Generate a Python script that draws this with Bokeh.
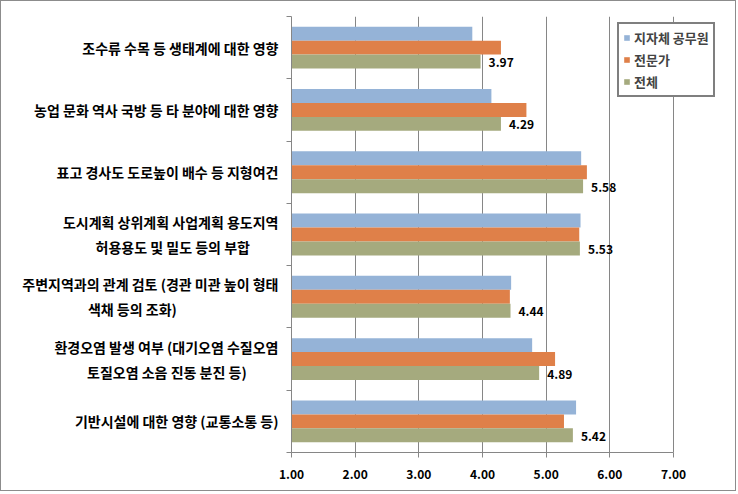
from bokeh.plotting import figure
from bokeh.models import Range1d, FixedTicker, Legend, LegendItem, ColumnDataSource
from bokeh.core.properties import value
from bokeh.embed import file_html
from bokeh.resources import INLINE

NB = "\u00a0"
categories = [
    "조수류 수목 등 생태계에 대한 영향",
    "농업 문화 역사 국방 등 타 분야에 대한 영향",
    "표고 경사도 도로높이 배수 등 지형여건",
    "도시계획 상위계획 사업계획 용도지역\n허용용도 및 밀도 등의 부합" + NB * 9,
    "주변지역과의 관계 검토 (경관 미관 높이 형태\n색채 등의 조화)" + NB * 32,
    "환경오염 발생 여부 (대기오염 수질오염\n토질오염 소음 진동 분진 등)" + NB * 10,
    "기반시설에 대한 영향 (교통소통 등)",
]
series_names = ["지자체 공무원", "전문가", "전체"]
officials = [3.84, 4.14, 5.55, 5.54, 4.45, 4.78, 5.47]
experts = [4.29, 4.69, 5.64, 5.52, 4.43, 5.14, 5.28]
overall = [3.97, 4.29, 5.58, 5.53, 4.44, 4.89, 5.42]
x_ticks = [1, 2, 3, 4, 5, 6, 7]
x_tick_labels = ["1.00", "2.00", "3.00", "4.00", "5.00", "6.00", "7.00"]

colors = ["#95B3D7", "#DF8049", "#A5AA7E"]
FONT = "Noto Sans CJK KR"

n = len(categories)
ypos = [n - 0.5 - i for i in range(n)]
bar_h = 0.224
offsets = [bar_h, 0.0, -bar_h]

p = figure(width=736, height=491, output_backend="svg", toolbar_location=None,
           x_range=Range1d(1, 7.88), y_range=Range1d(0, n),
           min_border_left=290, min_border_right=8, min_border_top=15, min_border_bottom=40)
p.styles = {"border": "1px solid #8c8c8c"}
p.outline_line_color = None
p.background_fill_color = "white"
p.border_fill_color = "white"

renderers = []
for vals, off, col in zip([officials, experts, overall], offsets, colors):
    src = ColumnDataSource(dict(y=[y + off for y in ypos], right=vals, left=[1] * n))
    r = p.hbar(y="y", left="left", right="right", height=bar_h, source=src,
               fill_color=col, line_color=None)
    renderers.append(r)

lbl_src = ColumnDataSource(dict(x=overall, y=[y + offsets[2] for y in ypos],
                                t=["%.2f" % v for v in overall]))
p.text(x="x", y="y", text="t", source=lbl_src, x_offset=8, y_offset=1, text_align="left",
       text_baseline="middle", text_font=value(FONT), text_font_style="bold",
       text_font_size="12px", text_color="black")

# x axis
p.xaxis.ticker = FixedTicker(ticks=x_ticks)
p.xaxis.bounds = (1, 7)
p.xaxis.major_label_overrides = {t: l for t, l in zip(x_ticks, x_tick_labels)}
p.xaxis.major_label_text_font = FONT
p.xaxis.major_label_text_font_style = "bold"
p.xaxis.major_label_text_font_size = "12px"
p.xaxis.major_label_text_color = "black"
p.xaxis.major_tick_out = 5
p.xaxis.major_tick_in = 0
p.xaxis.minor_tick_line_color = None
p.xaxis.axis_line_color = "#868686"
p.xaxis.major_tick_line_color = "#868686"
p.xaxis.major_label_standoff = 12

# y axis
p.yaxis.ticker = FixedTicker(ticks=ypos, minor_ticks=list(range(n + 1)))
p.yaxis.major_label_overrides = {y: c for y, c in zip(ypos, categories)}
p.yaxis.major_label_text_font = FONT
p.yaxis.major_label_text_font_style = "bold"
p.yaxis.major_label_text_font_size = "14px"
p.yaxis.major_label_text_color = "black"
p.yaxis.major_label_text_line_height = 1.25
p.yaxis.major_tick_out = 0
p.yaxis.major_tick_in = 0
p.yaxis.minor_tick_out = 5
p.yaxis.minor_tick_in = 0
p.yaxis.minor_tick_line_color = "#868686"
p.yaxis.axis_line_color = "#868686"
p.yaxis.major_label_standoff = 8

p.xgrid.ticker = FixedTicker(ticks=x_ticks)
p.xgrid.grid_line_color = "#868686"
p.ygrid.grid_line_color = None

legend = Legend(items=[LegendItem(label=s, renderers=[r]) for s, r in zip(series_names, renderers)],
                location=(326, 355))
legend.border_line_color = "black"
legend.border_line_width = 2
legend.label_text_font = FONT
legend.label_text_font_style = "bold"
legend.label_text_font_size = "13px"
legend.glyph_width = 7
legend.glyph_height = 7
legend.label_standoff = 4
legend.label_height = 17
legend.spacing = 3
legend.padding = 4
legend.margin = 0
legend.background_fill_alpha = 1
p.add_layout(legend, "center")

open("out.html", "w").write(file_html(p, INLINE))
